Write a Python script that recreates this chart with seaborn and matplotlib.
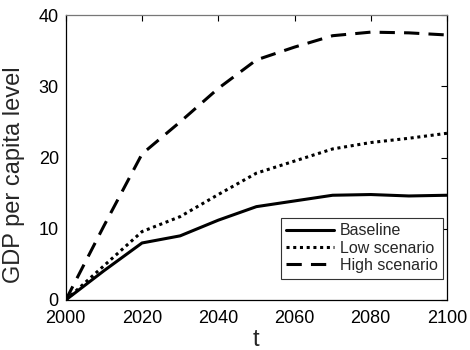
import matplotlib
matplotlib.use("Agg")
import matplotlib.pyplot as plt
import seaborn as sns
import pandas as pd

years = [2000, 2010, 2020, 2030, 2040, 2050, 2060, 2070, 2080, 2090, 2100]
baseline = [0, 4.1, 8.0, 9.0, 11.2, 13.1, 13.9, 14.7, 14.8, 14.6, 14.7]
low = [0, 4.8, 9.6, 11.7, 14.8, 17.8, 19.5, 21.2, 22.1, 22.7, 23.4]
high = [0, 10.4, 20.5, 25.0, 29.7, 33.7, 35.5, 37.1, 37.6, 37.5, 37.2]
labels = ["Baseline", "Low scenario", "High scenario"]
xticks = [2000, 2020, 2040, 2060, 2080, 2100]
yticks = [0, 10, 20, 30, 40]

sns.set_theme(style="white")
plt.rcParams['font.family'] = ['Liberation Sans', 'DejaVu Sans']

df = pd.DataFrame({
    "t": years * 3,
    "v": baseline + low + high,
    "s": [labels[0]] * len(years) + [labels[1]] * len(years) + [labels[2]] * len(years),
})

fig = plt.figure(figsize=(4.7, 3.5), dpi=100)
ax = fig.add_axes([0.140, 0.143, 0.811, 0.814])

dashes = {labels[0]: "", labels[1]: (1, 1.2), labels[2]: (5, 3)}
sns.lineplot(data=df, x="t", y="v", style="s", dashes=dashes, color="black",
             linewidth=2.2, ax=ax, legend=False)
for l in ax.lines:
    l.set_dash_capstyle("butt")

from matplotlib.lines import Line2D
handles = [Line2D([], [], color="black", lw=2.2, ls="-"),
           Line2D([], [], color="black", lw=2.2, ls=(0, (1, 1.2))),
           Line2D([], [], color="black", lw=2.2, ls=(0, (5, 3)))]
leg = ax.legend(handles, labels, loc="lower right", fontsize=11.5, frameon=True,
                fancybox=False, edgecolor="#333333", framealpha=1,
                handlelength=3.0, handletextpad=0.35, borderpad=0.35,
                labelspacing=0.15, borderaxespad=0, bbox_to_anchor=(0.99, 0.075))
leg.get_frame().set_linewidth(0.8)

ax.set_xlim(2000, 2100)
ax.set_ylim(0, 40)
ax.set_xticks(xticks)
ax.set_yticks(yticks)
ax.tick_params(direction="in", length=4, width=0.8, top=True, right=True,
               labelsize=13, colors="black")
ax.tick_params(axis="x", pad=7)
ax.tick_params(axis="y", pad=5)
ax.set_xlabel("t", fontsize=17, labelpad=2)
ax.set_ylabel("GDP per capita level", fontsize=17)
ax.yaxis.set_label_coords(-0.108, 0.44)
for name, sp in ax.spines.items():
    sp.set_visible(True)
    sp.set_color("black")
    sp.set_linewidth(0.9)
ax.spines["top"].set_color("#777777")

fig.savefig("out.png", dpi=100)
